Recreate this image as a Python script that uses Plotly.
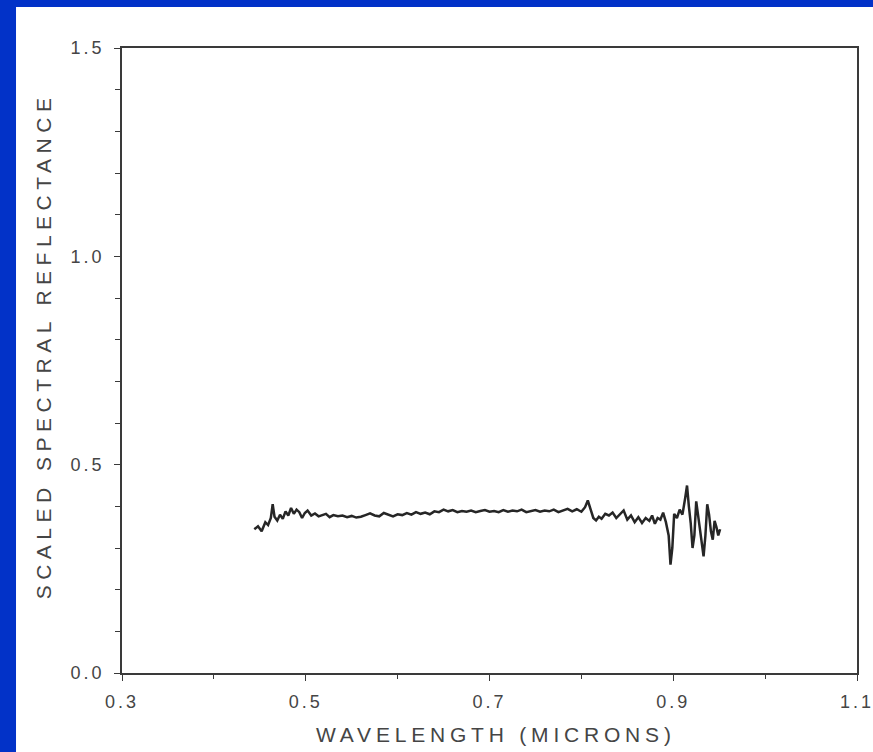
import plotly.graph_objects as go

# Reflectance spectrum (wavelength in microns, scaled reflectance)
wavelength = [
    0.444, 0.448, 0.452, 0.456, 0.459, 0.462, 0.464, 0.466, 0.469, 0.472,
    0.475, 0.478, 0.481, 0.484, 0.487, 0.490, 0.493, 0.496, 0.499, 0.502,
    0.506, 0.510, 0.514, 0.518, 0.522, 0.526, 0.530, 0.535, 0.540, 0.545,
    0.550, 0.555, 0.560, 0.565, 0.570, 0.575, 0.580, 0.585, 0.590, 0.595,
    0.600, 0.605, 0.610, 0.615, 0.620, 0.625, 0.630, 0.635, 0.640, 0.645,
    0.650, 0.655, 0.660, 0.665, 0.670, 0.675, 0.680, 0.685, 0.690, 0.695,
    0.700, 0.705, 0.710, 0.715, 0.720, 0.725, 0.730, 0.735, 0.740, 0.745,
    0.750, 0.755, 0.760, 0.765, 0.770, 0.775, 0.780, 0.785, 0.790, 0.795,
    0.800, 0.804, 0.807, 0.810, 0.813, 0.816, 0.819, 0.822, 0.826, 0.830,
    0.834, 0.838, 0.842, 0.846, 0.850, 0.854, 0.858, 0.862, 0.866, 0.870,
    0.874, 0.877, 0.880, 0.883, 0.886, 0.889, 0.892, 0.895, 0.897, 0.899,
    0.901, 0.904, 0.907, 0.910, 0.913, 0.915, 0.917, 0.919, 0.921, 0.923,
    0.925, 0.927, 0.929, 0.931, 0.933, 0.935, 0.937, 0.939, 0.941, 0.943,
    0.945, 0.947, 0.949, 0.951,
]
reflectance = [
    0.345, 0.352, 0.340, 0.362, 0.355, 0.372, 0.405, 0.375, 0.366, 0.380,
    0.370, 0.388, 0.378, 0.396, 0.382, 0.392, 0.386, 0.372, 0.384, 0.390,
    0.378, 0.383, 0.376, 0.380, 0.382, 0.374, 0.379, 0.376, 0.378, 0.374,
    0.377, 0.373, 0.375, 0.379, 0.383, 0.378, 0.376, 0.384, 0.380, 0.376,
    0.381, 0.379, 0.384, 0.380, 0.386, 0.382, 0.385, 0.381, 0.388, 0.386,
    0.392, 0.388, 0.391, 0.386, 0.389, 0.387, 0.390, 0.386, 0.389, 0.391,
    0.387, 0.389, 0.386, 0.391, 0.387, 0.390, 0.388, 0.392, 0.386, 0.389,
    0.391, 0.387, 0.390, 0.388, 0.392, 0.386, 0.390, 0.394, 0.388, 0.393,
    0.387, 0.398, 0.414, 0.392, 0.372, 0.366, 0.375, 0.370, 0.382, 0.378,
    0.385, 0.372, 0.380, 0.390, 0.368, 0.378, 0.362, 0.374, 0.360, 0.372,
    0.365, 0.378, 0.358, 0.372, 0.368, 0.385, 0.362, 0.330, 0.260, 0.300,
    0.382, 0.372, 0.392, 0.380, 0.420, 0.450, 0.400, 0.360, 0.300, 0.330,
    0.412, 0.380, 0.340, 0.310, 0.280, 0.330, 0.405, 0.380, 0.340, 0.320,
    0.365, 0.350, 0.330, 0.345,
]

x_tick_vals = [0.3, 0.5, 0.7, 0.9, 1.1]
x_tick_text = ["0.3", "0.5", "0.7", "0.9", "1.1"]
y_tick_vals = [0.0, 0.5, 1.0, 1.5]
y_tick_text = ["0.0", "0.5", "1.0", "1.5"]

x_title = "WAVELENGTH (MICRONS)"
y_title = "SCALED SPECTRAL REFLECTANCE"

ink = "#262626"
label_gray = "#454545"
frame_blue = "#0232c8"

fig = go.Figure()
fig.add_trace(go.Scatter(
    x=wavelength, y=reflectance, mode="lines",
    line=dict(color=ink, width=2.5), hoverinfo="skip", showlegend=False,
))

axis_common = dict(
    showgrid=False, zeroline=False, showline=True, linecolor="#3a3a3a",
    linewidth=1.5, mirror=True, ticks="outside", ticklen=6, tickwidth=1.2,
    tickcolor="#3a3a3a", automargin=False,
    tickfont=dict(family="Liberation Sans, Arial, sans-serif", size=18,
                  color=label_gray),
)

fig.update_xaxes(
    range=[0.3, 1.1], tickmode="array", tickvals=x_tick_vals,
    ticktext=x_tick_text, ticklabelstandoff=6,
    minor=dict(dtick=0.1, ticks="outside", ticklen=4, tickcolor="#3a3a3a"),
    **axis_common,
)
fig.update_yaxes(
    range=[0.0, 1.5], tickmode="array", tickvals=y_tick_vals,
    ticktext=y_tick_text, ticklabelstandoff=6,
    minor=dict(dtick=0.1, ticks="outside", ticklen=5, tickcolor="#3a3a3a"),
    **axis_common,
)

title_font = dict(family="Liberation Sans, Arial, sans-serif", size=21,
                  color=label_gray)
fig.add_annotation(text=x_title, xref="paper", yref="paper", x=0.509,
                   y=-0.099, showarrow=False, font=title_font,
                   xanchor="center", yanchor="middle")
fig.add_annotation(text=y_title, xref="paper", yref="paper", x=-0.1075,
                   y=0.523, showarrow=False, font=title_font, textangle=-90,
                   xanchor="center", yanchor="middle")

# Blue frame strips along the left and top edges of the page
fig.add_shape(type="rect", xref="paper", yref="paper",
              x0=-0.6, x1=-0.1442, y0=-0.6, y1=1.6,
              fillcolor=frame_blue, line=dict(width=0), layer="below")
fig.add_shape(type="rect", xref="paper", yref="paper",
              x0=-0.6, x1=1.6, y0=1.0656, y1=1.6,
              fillcolor=frame_blue, line=dict(width=0), layer="below")

fig.update_layout(
    width=873, height=752,
    margin=dict(l=122, r=16, t=48, b=79, autoexpand=False),
    paper_bgcolor="white", plot_bgcolor="white",
)

spacing_js = """
var gd = document.getElementById('{plot_id}');
var titles = gd.querySelectorAll('.annotation-text');
if (titles.length > 0) { titles[0].style.letterSpacing = '4.8px'; }
if (titles.length > 1) { titles[1].style.letterSpacing = '5.5px'; }
gd.querySelectorAll('.xtick text, .ytick text').forEach(function (t) {
    t.style.letterSpacing = '3px';
});
"""

fig.write_html("out.html", post_script=spacing_js)
